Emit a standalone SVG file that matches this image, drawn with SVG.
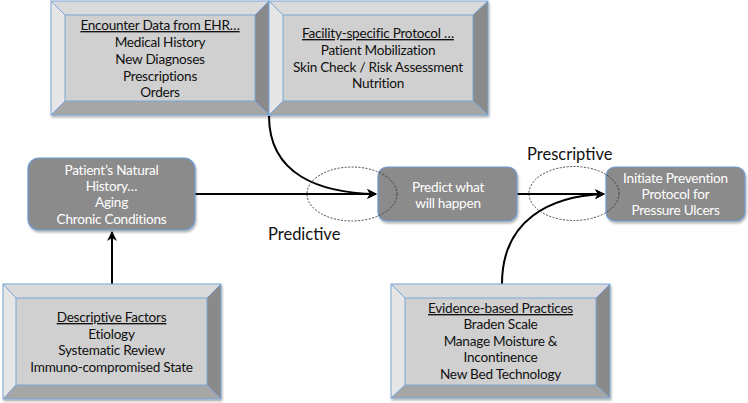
<svg xmlns="http://www.w3.org/2000/svg" width="748" height="403" viewBox="0 0 748 403">
<defs>
<style>
.t{font-family:Lato,"Open Sans","Liberation Sans",sans-serif;font-size:13.6px;letter-spacing:-0.25px;text-anchor:middle}
.d{fill:#111}
.w{fill:#ffffff}
.u{text-decoration:underline}
.lbl{font-family:Lato,"Open Sans","Liberation Sans",sans-serif;font-size:16.5px;fill:#111}
.top{fill:#dadada}
.lft{fill:#e6e6e6}
.rgt{fill:#8a8a8a}
.bot{fill:#a6a6a6}
.face{fill:#d0d0d0}
.edge{fill:none;stroke:#7aa6d8;stroke-width:1}
.rb{fill:#8b8b8b;stroke:#6c9bd2;stroke-width:1.2}
.c{fill:none;stroke:#000;stroke-width:2}
.el{fill:none;stroke:#333;stroke-width:0.9;stroke-dasharray:2 1.5}
</style>
<marker id="ah" viewBox="0 0 10 10" refX="9" refY="5" markerWidth="5" markerHeight="5" orient="auto" markerUnits="strokeWidth">
<path d="M0,0 L10,5 L0,10 L3,5 Z" fill="#000"/>
</marker>
<filter id="sh" x="-5%" y="-5%" width="115%" height="120%">
<feDropShadow dx="1" dy="2" stdDeviation="1.2" flood-color="#000" flood-opacity="0.3"/>
</filter>
</defs>

<g id="connectors">
<path class="c" d="M195,194 L376,194" marker-end="url(#ah)"/>
<path class="c" d="M269,116 C269,175 320,193 376,194" marker-end="url(#ah)"/>
<path class="c" d="M517,194 L604,194" marker-end="url(#ah)"/>
<path class="c" d="M502,284 C502,220 550,196 604,194" marker-end="url(#ah)"/>
<path class="c" d="M112,284 L112,232" marker-end="url(#ah)"/>
</g>

<g id="encounter" filter="url(#sh)">
<polygon class="top" points="51,1 269,1 255,15 65,15"/>
<polygon class="lft" points="51,1 65,15 65,101 51,115"/>
<polygon class="rgt" points="269,1 269,115 255,101 255,15"/>
<polygon class="bot" points="51,115 65,101 255,101 269,115"/>
<rect class="face" x="65" y="15" width="190" height="86"/>
<rect class="edge" x="51" y="1" width="218" height="114"/>
<rect class="edge" x="65" y="15" width="190" height="86"/>
<path class="edge" d="M51,1 L65,15 M269,1 L255,15 M51,115 L65,101 M269,115 L255,101"/>
</g>
<g id="encounter-text" class="t d">
<text x="160" y="30" class="u">Encounter Data from EHR…</text>
<text x="160" y="47">Medical History</text>
<text x="160" y="63.5">New Diagnoses</text>
<text x="160" y="80.5">Prescriptions</text>
<text x="160" y="97">Orders</text>
</g>

<g id="facility" filter="url(#sh)">
<polygon class="top" points="269,1 488,1 473,15 283,15"/>
<polygon class="lft" points="269,1 283,15 283,101 269,115"/>
<polygon class="rgt" points="488,1 488,115 473,101 473,15"/>
<polygon class="bot" points="269,115 283,101 473,101 488,115"/>
<rect class="face" x="283" y="15" width="190" height="86"/>
<rect class="edge" x="269" y="1" width="219" height="114"/>
<rect class="edge" x="283" y="15" width="190" height="86"/>
<path class="edge" d="M269,1 L283,15 M488,1 L473,15 M269,115 L283,101 M488,115 L473,101"/>
</g>
<g id="facility-text" class="t d">
<text x="378" y="38" class="u">Facility-specific Protocol …</text>
<text x="378" y="54.5">Patient Mobilization</text>
<text x="378" y="71.5">Skin Check / Risk Assessment</text>
<text x="378" y="88">Nutrition</text>
</g>

<g id="natural-history">
<rect class="rb" x="28" y="158" width="167" height="72" rx="11" filter="url(#sh)"/>
<g class="t w">
<text x="111.5" y="175">Patient’s Natural</text>
<text x="111.5" y="191">History…</text>
<text x="111.5" y="207">Aging</text>
<text x="111.5" y="224">Chronic Conditions</text>
</g>
</g>

<g id="predict">
<rect class="rb" x="378" y="167" width="139" height="54" rx="9" filter="url(#sh)"/>
<g class="t w">
<text x="448" y="192">Predict what</text>
<text x="448" y="207.5">will happen</text>
</g>
</g>

<g id="initiate">
<rect class="rb" x="606" y="167" width="139" height="54" rx="9" filter="url(#sh)"/>
<g class="t w">
<text x="675.5" y="183">Initiate Prevention</text>
<text x="675.5" y="199">Protocol for</text>
<text x="675.5" y="215">Pressure Ulcers</text>
</g>
</g>

<g id="descriptive" filter="url(#sh)">
<polygon class="top" points="3,284 221,284 207,298 16,298"/>
<polygon class="lft" points="3,284 16,298 16,385 3,399"/>
<polygon class="rgt" points="221,284 221,399 207,385 207,298"/>
<polygon class="bot" points="3,399 16,385 207,385 221,399"/>
<rect class="face" x="16" y="298" width="191" height="87"/>
<rect class="edge" x="3" y="284" width="218" height="115"/>
<rect class="edge" x="16" y="298" width="191" height="87"/>
<path class="edge" d="M3,284 L16,298 M221,284 L207,298 M3,399 L16,385 M221,399 L207,385"/>
</g>
<g id="descriptive-text" class="t d">
<text x="111.5" y="322" class="u">Descriptive Factors</text>
<text x="111.5" y="338.5">Etiology</text>
<text x="111.5" y="355">Systematic Review</text>
<text x="111.5" y="371.5">Immuno-compromised State</text>
</g>

<g id="evidence" filter="url(#sh)">
<polygon class="top" points="391,284 610,284 596,298 405,298"/>
<polygon class="lft" points="391,284 405,298 405,385 391,398"/>
<polygon class="rgt" points="610,284 610,398 596,385 596,298"/>
<polygon class="bot" points="391,398 405,385 596,385 610,398"/>
<rect class="face" x="405" y="298" width="191" height="87"/>
<rect class="edge" x="391" y="284" width="219" height="114"/>
<rect class="edge" x="405" y="298" width="191" height="87"/>
<path class="edge" d="M391,284 L405,298 M610,284 L596,298 M391,398 L405,385 M610,398 L596,385"/>
</g>
<g id="evidence-text" class="t d">
<text x="500.5" y="313" class="u">Evidence-based Practices</text>
<text x="500.5" y="329">Braden Scale</text>
<text x="500.5" y="345.5">Manage Moisture &amp;</text>
<text x="500.5" y="362">Incontinence</text>
<text x="500.5" y="378.5">New Bed Technology</text>
</g>

<g id="highlights">
<ellipse class="el" cx="352" cy="194" rx="45" ry="27"/>
<ellipse class="el" cx="574" cy="193.5" rx="45" ry="27"/>
</g>

<g id="labels">
<text class="lbl" x="268" y="240">Predictive</text>
<text class="lbl" x="527" y="160">Prescriptive</text>
</g>
</svg>
